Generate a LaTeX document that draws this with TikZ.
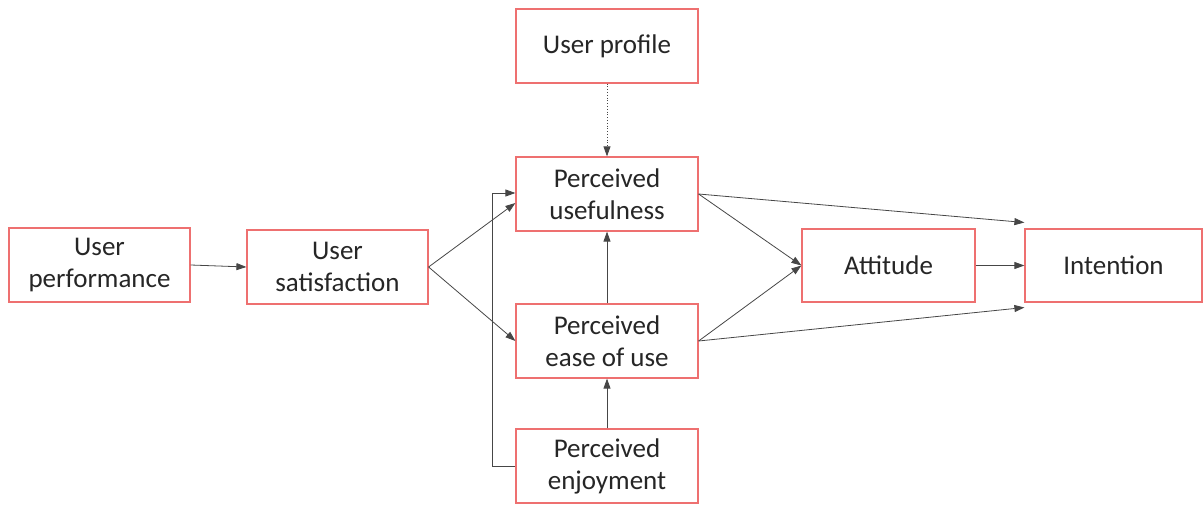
\documentclass[tikz,border=0pt]{standalone}
\usepackage{fontspec}
\setmainfont{Carlito}
\usetikzlibrary{arrows.meta}
\definecolor{boxred}{RGB}{238,112,112}
\definecolor{linegray}{RGB}{70,70,70}
\begin{document}
\begin{tikzpicture}[x=1pt,y=-1pt,
  box/.style={draw=boxred, line width=1.2pt, fill=white, inner sep=0pt,
    align=center, font=\fontsize{27}{32}\selectfont, text=black!85},
  link/.style={draw=linegray, line width=0.8pt, -{Triangle[length=10pt,width=7pt]}}]
\useasboundingbox (0,0) rectangle (1204,505);
% boxes
\node[box, minimum width=182pt, minimum height=74pt] (profile) at (607,46) {User profile};
\node[box, minimum width=182pt, minimum height=74pt] (useful) at (607,194) {Perceived\\usefulness};
\node[box, minimum width=181pt, minimum height=74pt] (perf) at (99.5,265) {User\\performance};
\node[box, minimum width=181pt, minimum height=74pt] (satis) at (337.5,267) {User\\satisfaction};
\node[box, minimum width=182pt, minimum height=74pt] (ease) at (607,341) {Perceived\\ease of use};
\node[box, minimum width=182pt, minimum height=74pt] (enjoy) at (607,466) {Perceived\\enjoyment};
\node[box, minimum width=173pt, minimum height=73pt] (att) at (888.5,265.5) {Attitude};
\node[box, minimum width=177pt, minimum height=73pt] (intent) at (1113.5,265.5) {Intention};
% connectors
\coordinate (bend) at (492,466);
\draw[link, dotted] (profile.south) -- (useful.north);
\draw[link] (perf.east) -- (satis.west);
\draw[link] (satis.east) -- ([yshift=-9pt]useful.west);
\draw[link] (satis.east) -- (ease.west);
\draw[link] (enjoy.west) -- (bend) |- ([yshift=1pt]useful.west);
\draw[link] (ease.north) -- (useful.south);
\draw[link] (enjoy.north) -- (ease.south);
\draw[link] (useful.east) -- (att.west);
\draw[link] (ease.east) -- (att.west);
\draw[link] (useful.east) -- ([yshift=43pt]intent.west);
\draw[link] (ease.east) -- ([yshift=-42pt]intent.west);
\draw[link] (att.east) -- (intent.west);
\end{tikzpicture}
\end{document}
